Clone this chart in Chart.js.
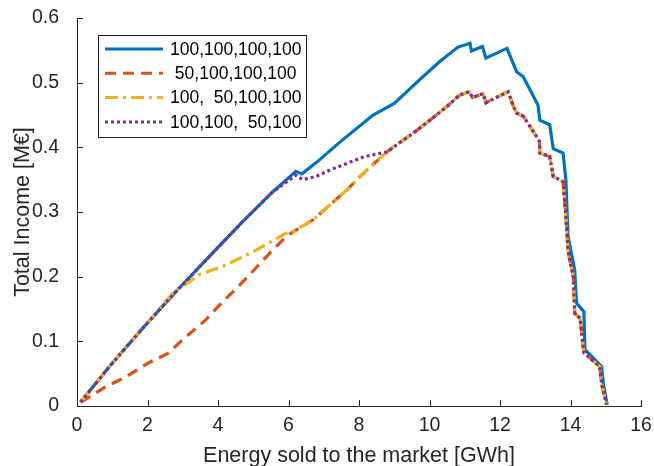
<!DOCTYPE html>
<html>
<head>
<meta charset="utf-8">
<script src="https://cdn.jsdelivr.net/npm/chart.js@4.4.0/dist/chart.umd.min.js"></script>
<style>
  html, body { margin: 0; padding: 0; background: #fff; }
  #wrap { width: 654px; height: 466px; }
</style>
</head>
<body>
<div id="wrap"><canvas id="c" width="654" height="466"></canvas></div>
<script>
// -------- data --------
const xTicks = [0, 2, 4, 6, 8, 10, 12, 14, 16];
const yTicks = [0, 0.1, 0.2, 0.3, 0.4, 0.5, 0.6];

const labels = ["100,100,100,100", " 50,100,100,100", "100,  50,100,100", "100,100,  50,100"];

// 100,100,100,100
const blueX = [0.1, 0.92, 1.86, 2.81, 3.75, 4.70, 5.55, 6.21, 6.38, 6.78, 7.5, 8.4, 9.0, 9.73, 10.3, 10.81, 11.15, 11.19, 11.5, 11.6, 12.2, 12.47, 12.66, 13.08, 13.13, 13.41, 13.51, 13.79, 13.87, 13.93, 14.08, 14.12, 14.17, 14.38, 14.41, 14.88, 14.93, 15.04];
const blueY = [0.006, 0.061, 0.120, 0.177, 0.231, 0.285, 0.331, 0.363, 0.359, 0.376, 0.41, 0.45, 0.468, 0.505, 0.533, 0.555, 0.561, 0.549, 0.556, 0.538, 0.553, 0.517, 0.509, 0.465, 0.442, 0.435, 0.398, 0.391, 0.349, 0.262, 0.221, 0.210, 0.159, 0.146, 0.087, 0.061, 0.035, 0.002];

// 50,100,100,100
const orangeX = [0.11, 0.82, 1.39, 2.0, 2.57, 3.09, 3.61, 4.13, 4.60, 4.98, 5.41, 5.93, 6.15];
const orangeY = [0.006, 0.030, 0.045, 0.066, 0.081, 0.107, 0.131, 0.161, 0.186, 0.208, 0.233, 0.262, 0.270];

// 100,50,100,100
const yellowX = [0.1, 0.92, 1.86, 2.71, 3.47, 4.23, 5.08, 5.93, 6.15];
const yellowY = [0.006, 0.061, 0.120, 0.174, 0.203, 0.218, 0.241, 0.267, 0.270];

// part shared by orange and yellow after they meet
const midX = [6.3, 6.7, 7.65, 8.22, 8.8];
const midY = [0.275, 0.288, 0.334, 0.365, 0.393];

// 100,100,50,100
const purpleX = [0.1, 0.92, 1.86, 2.81, 3.75, 4.70, 5.55, 6.21, 6.40, 6.78, 7.18, 8.12, 8.8];
const purpleY = [0.006, 0.061, 0.120, 0.177, 0.231, 0.285, 0.331, 0.357, 0.350, 0.355, 0.365, 0.385, 0.393];

// tail shared by the three lower curves
const tailX = [9.07, 9.54, 10.01, 10.49, 10.86, 11.13, 11.22, 11.52, 11.6, 12.23, 12.37, 12.47, 12.66, 12.99, 13.12, 13.13, 13.41, 13.51, 13.79, 13.87, 13.93, 14.0, 14.08, 14.12, 14.27, 14.38, 14.83, 14.88, 15.02];
const tailY = [0.404, 0.422, 0.442, 0.463, 0.481, 0.486, 0.477, 0.483, 0.469, 0.486, 0.465, 0.453, 0.448, 0.421, 0.409, 0.391, 0.386, 0.355, 0.347, 0.293, 0.241, 0.221, 0.200, 0.143, 0.136, 0.082, 0.061, 0.035, 0.002];

function pts(xs, ys) {
  return xs.map((x, i) => ({ x: x, y: ys[i] }));
}

const colors = ["#0072BD", "#D95319", "#EDB120", "#7E2F8E"];
const dashes = [[], [11, 7], [13, 5, 3, 5], [3, 3]];
const FONT = "'Liberation Sans', Arial, sans-serif";
const AX = "#262626";

const series = [
  pts(blueX, blueY),
  pts(orangeX.concat(midX, tailX), orangeY.concat(midY, tailY)),
  pts(yellowX.concat(midX, tailX), yellowY.concat(midY, tailY)),
  pts(purpleX.concat(tailX), purpleY.concat(tailY))
];

// inward tick marks + legend box like matlab
const matlabBits = {
  id: "matlabBits",
  afterDraw(chart) {
    const ctx = chart.ctx;
    const a = chart.chartArea;
    const xs = chart.scales.x, ys = chart.scales.y;
    ctx.save();
    ctx.strokeStyle = AX;
    ctx.lineWidth = 1;
    ctx.beginPath();
    xTicks.forEach(v => {
      const px = Math.round(xs.getPixelForValue(v)) + 0.5;
      ctx.moveTo(px, a.bottom);
      ctx.lineTo(px, a.bottom - 6);
    });
    yTicks.forEach(v => {
      const py = Math.round(ys.getPixelForValue(v)) + 0.5;
      ctx.moveTo(a.left, py);
      ctx.lineTo(a.left + 6, py);
    });
    ctx.stroke();

    // legend
    const bx = 98.5, by = 35.5, bw = 208, bh = 102;
    ctx.fillStyle = "#fff";
    ctx.fillRect(bx, by, bw, bh);
    ctx.strokeStyle = AX;
    ctx.strokeRect(bx, by, bw, bh);
    ctx.font = "17.5px " + FONT;
    ctx.textBaseline = "middle";
    ctx.textAlign = "left";
    for (let i = 0; i < 4; i++) {
      const y = 49 + i * 24.3;
      ctx.strokeStyle = colors[i];
      ctx.lineWidth = 3;
      ctx.setLineDash(dashes[i]);
      ctx.beginPath();
      ctx.moveTo(105, y);
      ctx.lineTo(163, y);
      ctx.stroke();
      ctx.setLineDash([]);
      ctx.fillStyle = "#000";
      ctx.fillText(labels[i], 170, y + 1);
    }
    ctx.restore();
  }
};

new Chart(document.getElementById("c"), {
  type: "scatter",
  data: {
    datasets: series.map((d, i) => ({
      label: labels[i],
      data: d,
      showLine: true,
      borderColor: colors[i],
      backgroundColor: colors[i],
      borderWidth: 3.2,
      borderDash: dashes[i],
      borderCapStyle: "butt",
      pointRadius: 0,
      tension: 0,
      order: 3 - i
    }))
  },
  options: {
    responsive: false,
    animation: false,
    layout: { padding: 0 },
    plugins: { legend: { display: false }, tooltip: { enabled: false } },
    scales: {
      x: {
        type: "linear", min: 0, max: 16,
        afterFit: s => { s.height = 60; s.paddingLeft = 0; s.paddingRight = 13; },
        grid: { display: false, drawTicks: false },
        border: { display: true, color: AX, width: 1 },
        ticks: { stepSize: 2, padding: 8, color: AX, font: { family: FONT, size: 19.5 } },
        title: { display: true, text: "Energy sold to the market [GWh]", color: AX,
                 font: { family: FONT, size: 21.5 }, padding: { top: 0, bottom: -3 } }
      },
      y: {
        type: "linear", min: 0, max: 0.6,
        afterFit: s => { s.width = 77; s.paddingTop = 18; s.paddingBottom = 0; },
        grid: { display: false, drawTicks: false },
        border: { display: true, color: AX, width: 1 },
        ticks: { stepSize: 0.1, padding: 18, color: AX, font: { family: FONT, size: 19.5 },
                 callback: v => String(+v.toFixed(1)) },
        title: { display: true, text: "Total Income [M€]", color: AX,
                 font: { family: FONT, size: 21.5 }, padding: { top: 10, bottom: 0 } }
      }
    }
  },
  plugins: [matlabBits]
});
</script>
</body>
</html>
